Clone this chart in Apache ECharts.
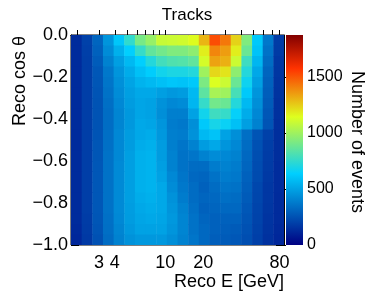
<!DOCTYPE html>
<html><head><meta charset="utf-8">
<script src="https://cdn.jsdelivr.net/npm/echarts@6/dist/echarts.min.js"></script>
<style>html,body{margin:0;padding:0;background:#fff}#c{width:374px;height:293px}</style>
</head><body><div id="c"></div>
<script>
// ---- axis definitions ----
const eMin = 1.8, eMax = 87;          // Reco E range [GeV], log binned
const nEBins = 20;
const cosMin = -1, cosMax = 0;         // Reco cos theta range
const nCosBins = 20;
const xTickValues = [2,3,4,5,6,7,8,9,10,20,30,40,50,60,70,80];
const xLabelValues = [3,4,10,20,80];
const zMax = 1875;
const zLabelValues = [0,500,1000,1500];

// ---- counts per cos-theta row, top row (cos 0) first, E bins low -> high ----
const r00 = [130,200,310,460,610,750,910,980,1090,1100,1110,1150,1300,1520,1430,1240,930,620,370,185];
const r01 = [130,195,300,430,540,640,760,860,900,930,930,960,1180,1400,1350,1180,880,600,350,180];
const r02 = [130,190,285,400,490,570,640,720,790,820,830,860,1120,1340,1310,1100,780,560,330,170];
const r03 = [130,190,270,370,460,530,590,630,680,700,700,720,1000,1230,1200,960,720,520,310,165];
const r04 = [130,190,265,360,445,505,550,570,590,610,600,620,920,1140,1100,880,670,490,300,160];
const r05 = [130,190,260,350,430,490,520,520,490,470,480,570,850,1020,1000,800,620,460,290,155];
const r06 = [130,190,255,340,420,480,510,500,450,420,430,560,760,900,880,720,570,440,280,150];
const r07 = [130,190,255,335,410,470,510,500,440,390,390,500,680,780,760,650,530,420,270,150];
const r08 = [130,190,255,335,410,470,520,510,460,380,370,440,620,690,660,590,490,400,260,145];
const r09 = [130,190,260,340,420,480,520,530,470,390,380,450,570,600,500,440,340,260,200,140];
const r10 = [130,190,265,345,420,480,530,540,480,390,360,400,480,520,460,420,330,250,190,140];
const r11 = [130,190,265,350,420,490,540,550,480,400,350,360,400,430,420,400,320,240,185,140];
const r12 = [130,190,270,350,425,490,540,550,490,400,350,330,330,380,400,380,310,235,180,135];
const r13 = [130,190,270,350,425,490,540,550,500,420,360,320,310,350,380,370,300,230,175,135];
const r14 = [130,190,270,350,425,490,540,550,520,430,370,330,300,330,360,350,290,220,170,135];
const r15 = [130,190,270,350,425,490,530,540,520,450,380,330,310,320,340,330,280,215,170,130];
const r16 = [130,190,270,350,425,485,520,530,520,460,400,340,300,310,320,320,270,210,165,130];
const r17 = [130,185,265,345,420,480,510,520,510,470,410,350,310,300,300,300,260,205,160,130];
const r18 = [125,180,260,340,410,470,500,500,500,460,410,350,320,300,290,280,250,200,155,125];
const r19 = [120,175,250,330,400,450,470,470,470,440,400,360,320,290,280,270,240,195,150,120];
const rows = [r00,r01,r02,r03,r04,r05,r06,r07,r08,r09,r10,r11,r12,r13,r14,r15,r16,r17,r18,r19];

// ---- palette (ROOT-style rainbow) ----
const palStops = [[0,[0,0,130]],[0.34,[0,207,255]],[0.61,[222,255,31]],[0.84,[255,51,0]],[1,[130,0,0]]];
function pal(t){
  for (let i=1;i<palStops.length;i++){
    if (t <= palStops[i][0]){
      const a = palStops[i-1], b = palStops[i];
      const f = (t - a[0])/(b[0]-a[0]);
      const c = a[1].map((v,k)=>Math.round(v + f*(b[1][k]-v)));
      return 'rgb('+c.join(',')+')';
    }
  }
  return 'rgb(130,0,0)';
}
const palColors = [];
for (let i=0;i<=100;i++) palColors.push(pal(i/100));

// ---- bin edges ----
const eEdges = [];
for (let i=0;i<=nEBins;i++) eEdges.push(eMin*Math.pow(eMax/eMin, i/nEBins));
const dCos = (cosMax-cosMin)/nCosBins;

const cells = [];
rows.forEach((row, r) => {
  const yhi = cosMax - r*dCos, ylo = yhi - dCos;
  row.forEach((v, c) => cells.push([eEdges[c], eEdges[c+1], ylo, yhi, v]));
});

const FONT = 'Liberation Sans';
const black = '#000';
const fmtY = v => (v < 0 ? '\u2212' : '') + Math.abs(v).toFixed(1);

const chart = echarts.init(document.getElementById('c'), null, {renderer:'canvas'});
chart.setOption({
  animation: false,
  backgroundColor: '#fff',
  grid: [
    {left:71, right:90, top:35, bottom:48, show:true, borderColor:black, borderWidth:1, backgroundColor:'transparent'},
    {left:286, width:17, top:35, bottom:48, show:false}
  ],
  xAxis: [
    {type:'log', gridIndex:0, min:eMin, max:eMax, logBase:10,
     axisLine:{show:true, lineStyle:{color:black}},
     axisTick:{show:true, inside:true, length:5, customValues:xTickValues, lineStyle:{color:black}},
     axisLabel:{show:true, customValues:xLabelValues, fontSize:18, fontFamily:FONT, color:black, margin:9,
                formatter: v => String(Math.round(v))},
     splitLine:{show:false}, minorTick:{show:false}},
    {type:'log', gridIndex:0, position:'top', min:eMin, max:eMax, logBase:10,
     axisLine:{show:true, lineStyle:{color:black}},
     axisTick:{show:true, inside:true, length:5, customValues:xTickValues, lineStyle:{color:black}},
     axisLabel:{show:false}, splitLine:{show:false}},
    {type:'value', gridIndex:1, min:0, max:1, show:false}
  ],
  yAxis: [
    {type:'value', gridIndex:0, min:cosMin, max:cosMax, interval:0.2,
     axisLine:{show:true, lineStyle:{color:black}},
     axisTick:{show:true, inside:true, length:8, lineStyle:{color:black}},
     axisLabel:{fontSize:18, fontFamily:FONT, color:black, margin:3, formatter:fmtY},
     splitLine:{show:false}},
    {type:'value', gridIndex:0, position:'right', min:cosMin, max:cosMax, interval:0.2,
     axisLine:{show:true, lineStyle:{color:black}},
     axisTick:{show:true, inside:true, length:8, lineStyle:{color:black}},
     axisLabel:{show:false}, splitLine:{show:false}},
    {type:'value', gridIndex:1, position:'right', min:0, max:zMax,
     axisLine:{show:false},
     axisTick:{show:true, inside:true, length:5, customValues:zLabelValues, lineStyle:{color:black}},
     axisLabel:{customValues:zLabelValues, fontSize:16, fontFamily:FONT, color:black, margin:4,
                formatter: v => String(Math.round(v))},
     splitLine:{show:false}}
  ],
  visualMap: {type:'continuous', show:false, min:0, max:zMax, dimension:4, seriesIndex:0,
              inRange:{color:palColors}},
  series: [
    {type:'custom', xAxisIndex:0, yAxisIndex:0, data:cells, encode:{x:[0,1], y:[2,3]}, clip:true,
     renderItem: (params, api) => {
       const p0 = api.coord([api.value(0), api.value(3)]);
       const p1 = api.coord([api.value(1), api.value(2)]);
       return {type:'rect', shape:{x:p0[0], y:p0[1], width:p1[0]-p0[0]+0.5, height:p1[1]-p0[1]+0.5},
               style:{fill:api.visual('color')}};
     }},
    {type:'custom', xAxisIndex:2, yAxisIndex:2, data:[[0,1,0,zMax]], encode:{x:[0,1], y:[2,3]},
     renderItem: (params, api) => {
       const p0 = api.coord([api.value(0), api.value(3)]);
       const p1 = api.coord([api.value(1), api.value(2)]);
       return {type:'rect', shape:{x:p0[0], y:p0[1], width:p1[0]-p0[0], height:p1[1]-p0[1]},
               style:{fill:{type:'linear', x:0, y:1, x2:0, y2:0,
                 colorStops: palStops.map(s => ({offset:s[0], color:'rgb('+s[1].join(',')+')'}))}}};
     }}
  ],
  graphic: [
    {type:'text', x:187, y:15, style:{text:'Tracks', fontSize:17, fontFamily:FONT, fill:black, align:'center', verticalAlign:'middle'}},
    {type:'text', x:20, y:36, rotation:Math.PI/2, style:{text:'Reco cos \u03b8', fontSize:18, fontFamily:FONT, fill:black, align:'right', verticalAlign:'middle'}},
    {type:'text', x:284, y:282, style:{text:'Reco E [GeV]', fontSize:18, fontFamily:FONT, fill:black, align:'right', verticalAlign:'middle'}},
    {type:'text', x:357, y:142, rotation:-Math.PI/2, style:{text:'Number of events', fontSize:18, fontFamily:FONT, fill:black, align:'center', verticalAlign:'middle'}}
  ]
});
</script>
</body></html>
